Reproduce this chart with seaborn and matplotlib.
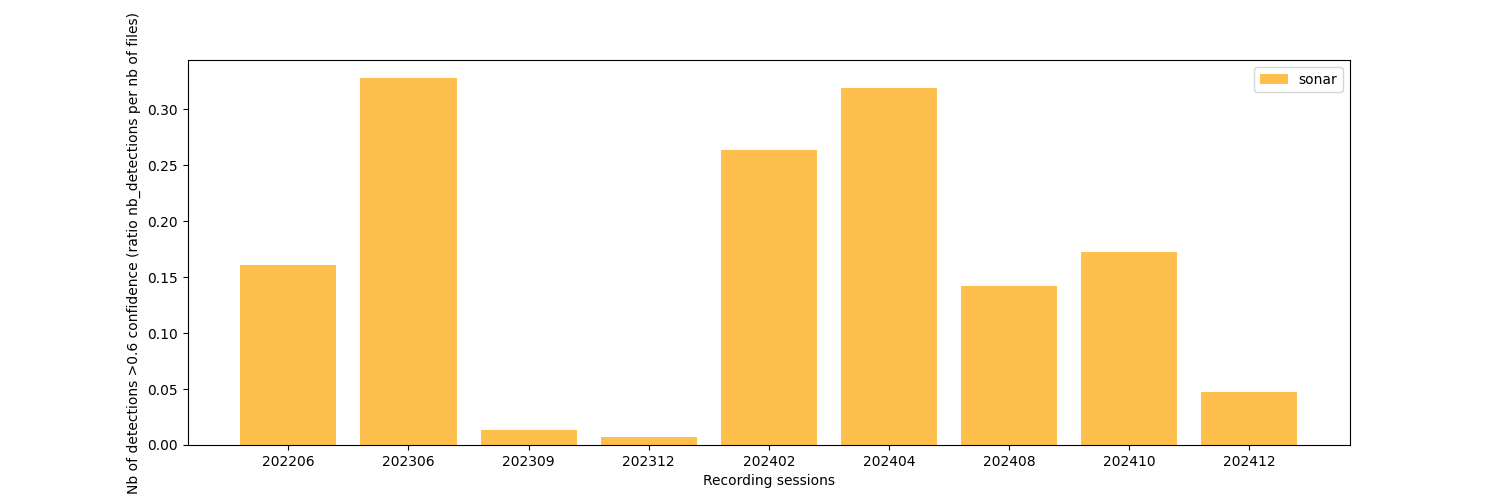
import matplotlib

matplotlib.use("Agg")

import matplotlib.pyplot as plt
import seaborn as sns

SESSIONS = ["202206", "202306", "202309", "202312", "202402",
            "202404", "202408", "202410", "202412"]
DETECTION_RATIO = [0.1607, 0.3277, 0.0134, 0.0071, 0.2634,
                   0.3188, 0.1420, 0.1723, 0.0473]
LABEL = "sonar"

fig, ax = plt.subplots(figsize=(15, 5), dpi=100)
sns.barplot(
    x=SESSIONS,
    y=DETECTION_RATIO,
    color="orange",
    alpha=0.7,
    saturation=1,
    width=0.8,
    label=LABEL,
    ax=ax,
)

# mimic matplotlib's default 5% margins around the bars
n = len(SESSIONS)
span = (n - 1) + 0.8
ax.set_xlim(-0.4 - 0.05 * span, n - 1 + 0.4 + 0.05 * span)

ax.set_xlabel("Recording sessions")
ax.set_ylabel("Nb of detections >0.6 confidence (ratio nb_detections per nb of files)")
ax.legend(loc="upper right")

fig.savefig("out.png", dpi=100)
plt.close(fig)
